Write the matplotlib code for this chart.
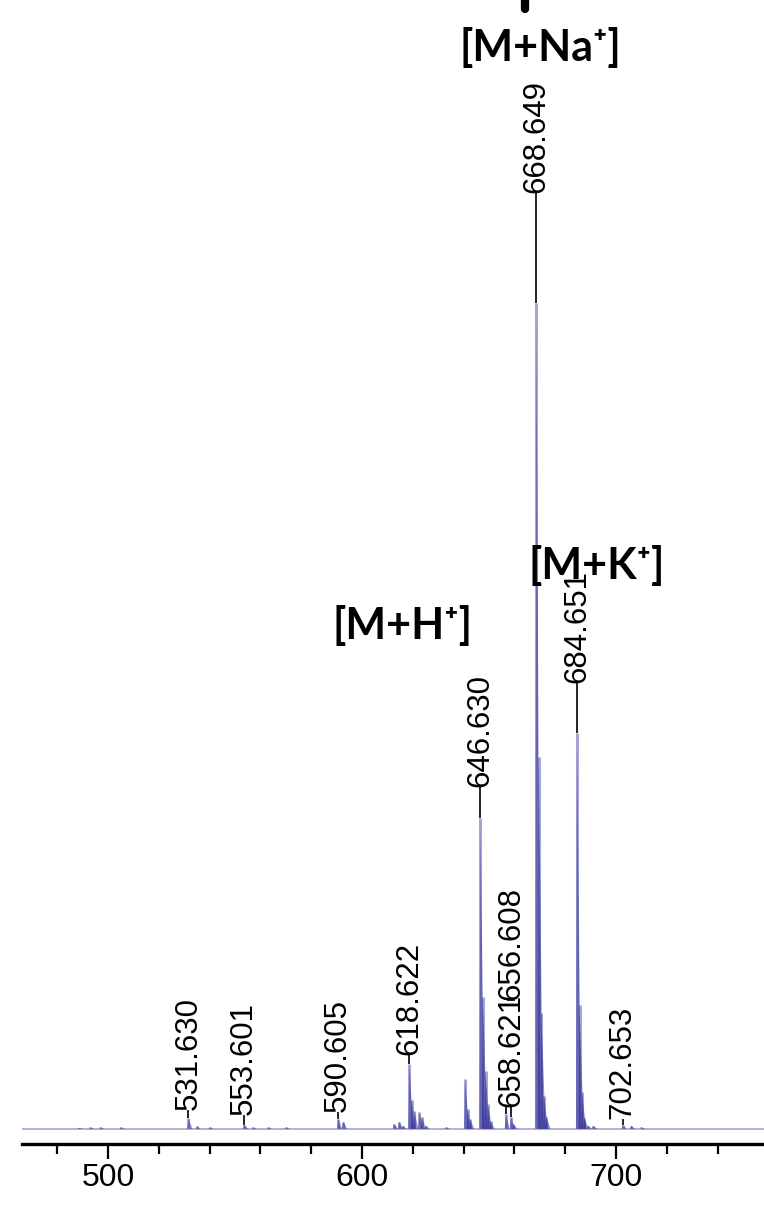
import matplotlib.pyplot as plt
from matplotlib.ticker import MultipleLocator

plt.rcParams['font.family'] = ['Liberation Sans', 'DejaVu Sans']

# centroid sticks of the spectrum (m/z, relative intensity %)
mz = [488.5, 493.0, 497.0, 505.0, 531.63, 535.0, 540.0, 553.60, 557.0, 563.0,
      570.0, 590.61, 592.6, 612.6, 614.6, 616.0, 618.62, 619.6, 620.6, 622.6,
      623.6, 625.0, 633.0, 640.6, 641.6, 642.6, 646.63, 647.63, 648.63, 649.6,
      650.6, 656.61, 658.62, 659.6, 668.65, 669.65, 670.65, 671.65, 672.6,
      684.65, 685.65, 686.65, 687.6, 689.0, 691.0, 702.65, 706.0, 710.0]
intensity = [0.15, 0.2, 0.2, 0.2, 1.3, 0.3, 0.2, 0.5, 0.2, 0.2,
             0.2, 1.2, 0.9, 0.6, 0.9, 0.4, 7.9, 3.5, 2.2, 2.0,
             1.5, 0.4, 0.2, 6.0, 2.4, 1.2, 37.6, 16.0, 7.0, 3.0,
             1.0, 1.8, 1.5, 0.6, 100.0, 45.0, 14.0, 4.0, 1.5,
             48.0, 15.0, 4.5, 1.3, 0.4, 0.4, 0.5, 0.4, 0.2]

# annotated peaks
label_mz = [531.630, 553.601, 590.605, 618.622, 646.630, 656.608, 658.621,
            668.649, 684.651, 702.653]
label_top = [1.3, 0.5, 1.2, 7.9, 37.6, 1.8, 1.5, 100.0, 48.0, 0.5]
label_y = [2.3, 1.7, 2.0, 9.0, 41.4, 15.6, 2.7, 113.3, 54.0, 1.2]

ions = ['[M+H⁺]', '[M+Na⁺]', '[M+K⁺]']
ion_xy = [(616.1, 60.9), (670.1, 131.0), (692.5, 68.2)]

fig = plt.figure(figsize=(7.64, 12.12), dpi=100)
ax = fig.add_axes([22 / 764, 81 / 1212, 742 / 764, 1131 / 1212])
ax.set_xlim(466.1, 758.3)
ax.set_ylim(-0.25, 136.7)

# baseline, sticks and peak profiles
ax.axhline(0, color='#a9a9d6', lw=1.3, zorder=1)
ax.vlines(mz, 0, intensity, color='#a8a8d8', lw=2.2, zorder=1.5)
for m, h in zip(mz, intensity):
    ax.fill([m - 0.4, m, m + 1.6], [0, h, 0], color='#23238f', alpha=0.5,
            lw=0, zorder=2)

# peak labels with leaders
for m, top, y in zip(label_mz, label_top, label_y):
    x = m
    if m == 656.608:
        # crowded: stacked above the 658.621 label
        x = 658.621
        ax.vlines(m, top, 2.7, color='black', lw=1.2, zorder=3)
        ax.hlines(y, x - 1.6, x + 1.6, color='black', lw=1.2, zorder=3)
    else:
        ax.vlines(m, top, y, color='black', lw=1.2, zorder=3)
    ax.text(x, y, f'{m:.3f}', rotation=90, ha='center', va='bottom',
            fontsize=22.5, zorder=4)

for s, (x, y) in zip(ions, ion_xy):
    ax.text(x, y, s, ha='center', va='center', fontsize=31,
            fontweight='bold', family=['Lato', 'DejaVu Sans'], zorder=5)
ax.plot([664.2, 664.2], [135.6, 137.6], color='black', lw=6,
        solid_capstyle='round', clip_on=False)

for side in ['left', 'right', 'top']:
    ax.spines[side].set_visible(False)
ax.spines['bottom'].set_position(('outward', 9.4))
ax.spines['bottom'].set_linewidth(2.4)
ax.set_yticks([])
ax.set_xticks([500, 600, 700])
ax.xaxis.set_minor_locator(MultipleLocator(20))
ax.tick_params(axis='x', which='major', length=11, width=1.6, labelsize=23,
               pad=3)
ax.tick_params(axis='x', which='minor', length=7.5, width=1.6)

fig.savefig('out.png', dpi=100)
